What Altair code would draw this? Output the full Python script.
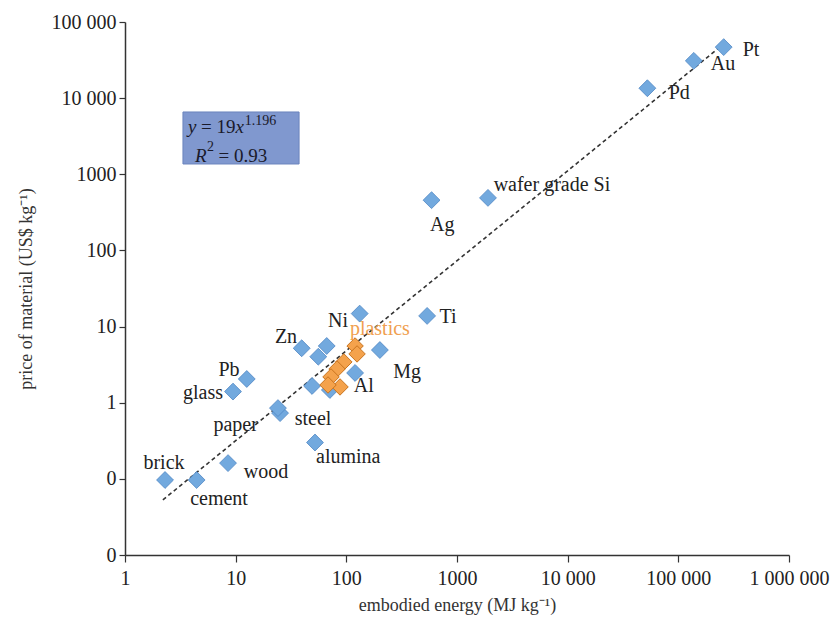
import altair as alt
import pandas as pd

# ---------------- data ----------------
blue_energy = [257000, 138000, 52500, 589, 1905, 132, 537, 39.5, 66.5, 55.8, 201, 120,
               49, 71, 25.2, 24.1, 12.6, 9.46, 52.1, 8.53, 2.30, 4.44]
blue_price = [46800, 30900, 13500, 457, 490, 14.8, 13.8, 5.19, 5.56, 4.02, 4.92, 2.46,
              1.66, 1.47, 0.73, 0.85, 2.05, 1.40, 0.30, 0.161, 0.0966, 0.0966]

plastic_energy = [120, 125, 95, 82.4, 72.7, 87.7, 68.3]
plastic_price = [5.56, 4.37, 3.43, 2.77, 2.18, 1.61, 1.71]

label_names = ["Pt", "Au", "Pd", "wafer grade Si", "Ag", "Ni", "Ti", "Zn", "Mg", "Al",
               "Pb", "glass", "paper", "steel", "alumina", "wood", "brick", "cement"]
label_energy = [454000, 253000, 102000, 7210, 735, 84, 829, 28.5, 355, 144,
                8.71, 5.07, 10.0, 50.0, 104, 18.8, 2.25, 7.07]
label_price = [43000, 28100, 11700, 723, 216, 11.8, 13.4, 7.30, 2.53, 1.66,
               2.69, 1.34, 0.509, 0.611, 0.194, 0.123, 0.161, 0.0543]

plastics_label = ["plastics"]
plastics_label_energy = [201]
plastics_label_price = [9.29]

trend_energy = [2.2, 280000]
trend_price = [0.053, 57000]

# equation box and its pieces
box_energy = [3.34, 37.4]
box_price = [1365, 6580]
eq_upright_text = ["=", "19", "= 0.93"]
eq_upright_energy = [4.86, 6.71, 7.0]
eq_upright_price = [3485, 3485, 1440]
eq_italic_text = ["y", "x", "R"]
eq_italic_energy = [3.71, 9.96, 4.29]
eq_italic_price = [3485, 3485, 1440]
eq_sup_text = ["1.196", "2"]
eq_sup_energy = [12.1, 5.51]
eq_sup_price = [4440, 2018]

x_ticks = [1, 10, 100, 1000, 10000, 100000, 1000000]
x_tick_labels = ["1", "10", "100", "1000", "10 000", "100 000", "1 000 000"]
y_ticks = [0.01, 0.1, 1, 10, 100, 1000, 10000, 100000]
y_tick_labels = ["0", "0", "1", "10", "100", "1000", "10 000", "100 000"]


def label_expr(vals, labels):
    s = "''"
    for v, l in reversed(list(zip(vals, labels))):
        s = f"(abs(datum.value - {v}) < {v * 0.001}) ? '{l}' : {s}"
    return s


FONT = "Liberation Serif"
INK = "#1a1a2a"

xscale = alt.Scale(type="log", domain=[1, 1000000], nice=False)
yscale = alt.Scale(type="log", domain=[0.01, 100000], nice=False)

xaxis = alt.Axis(values=x_ticks, labelExpr=label_expr(x_ticks, x_tick_labels),
                 title="embodied energy (MJ kg⁻¹)", grid=False, titlePadding=8,
                 tickSize=7, labelPadding=6, labelFlush=False, labelOverlap=False)
yaxis = alt.Axis(values=y_ticks, labelExpr=label_expr(y_ticks, y_tick_labels),
                 title="price of material (US$ kg⁻¹)", grid=False, titlePadding=16,
                 tickSize=6, labelPadding=3, labelFlush=False, labelOverlap=False)

X = alt.X("e:Q", scale=xscale, axis=xaxis)
Y = alt.Y("p:Q", scale=yscale, axis=yaxis)

blue_df = pd.DataFrame({"e": blue_energy, "p": blue_price})
orange_df = pd.DataFrame({"e": plastic_energy, "p": plastic_price})
lab_df = pd.DataFrame({"e": label_energy, "p": label_price, "t": label_names})
plab_df = pd.DataFrame({"e": plastics_label_energy, "p": plastics_label_price, "t": plastics_label})
trend_df = pd.DataFrame({"e": trend_energy, "p": trend_price})
box_df = pd.DataFrame({"e": [box_energy[0]], "e2": [box_energy[1]],
                       "p": [box_price[0]], "p2": [box_price[1]]})
up_df = pd.DataFrame({"e": eq_upright_energy, "p": eq_upright_price, "t": eq_upright_text})
it_df = pd.DataFrame({"e": eq_italic_energy, "p": eq_italic_price, "t": eq_italic_text})
sup_df = pd.DataFrame({"e": eq_sup_energy, "p": eq_sup_price, "t": eq_sup_text})

box = alt.Chart(box_df).mark_rect(fill="#8098cf", stroke="#6b84bd", strokeWidth=1).encode(
    x=X, x2="e2:Q", y=Y, y2="p2:Q")

trend = alt.Chart(trend_df).mark_line(color="#333333", strokeDash=[4, 3], strokeWidth=1.6).encode(
    x=X, y=Y)

blue = alt.Chart(blue_df).mark_point(shape="diamond", filled=True, size=285, fill="#72a9de",
                                     stroke="#4f86c4", strokeWidth=0.8, opacity=1).encode(x=X, y=Y)

orange = alt.Chart(orange_df).mark_point(shape="diamond", filled=True, size=270, fill="#f4a24c",
                                         stroke="#c9741f", strokeWidth=1, opacity=1).encode(x=X, y=Y)

labels = alt.Chart(lab_df).mark_text(font=FONT, fontSize=20, color="#222222",
                                     align="center", baseline="middle").encode(x=X, y=Y, text="t:N")

plabels = alt.Chart(plab_df).mark_text(font=FONT, fontSize=20, color="#f0a050",
                                       align="center", baseline="middle").encode(x=X, y=Y, text="t:N")

eq_up = alt.Chart(up_df).mark_text(font=FONT, fontSize=19, color=INK, align="left",
                                   baseline="alphabetic").encode(x=X, y=Y, text="t:N")
eq_it = alt.Chart(it_df).mark_text(font=FONT, fontSize=19, fontStyle="italic", color=INK,
                                   align="left", baseline="alphabetic").encode(x=X, y=Y, text="t:N")
eq_sup = alt.Chart(sup_df).mark_text(font=FONT, fontSize=14, color=INK, align="left",
                                     baseline="alphabetic").encode(x=X, y=Y, text="t:N")

chart = alt.layer(box, trend, blue, orange, labels, plabels, eq_up, eq_it, eq_sup).properties(
    width=664, height=533,
    padding={"left": 125, "top": 22, "right": 41, "bottom": 73},
    autosize=alt.AutoSizeParams(type="none"),
).configure_view(stroke=None).configure_axis(
    domainColor="#333333", domainWidth=1.5, tickColor="#333333", tickWidth=1.2,
    labelFont=FONT, labelFontSize=20, labelColor="#222222",
    titleFont=FONT, titleFontSize=18, titleFontWeight="normal", titleColor="#333333",
)

chart.save("out.html", embed_options={"renderer": "svg", "actions": False})
